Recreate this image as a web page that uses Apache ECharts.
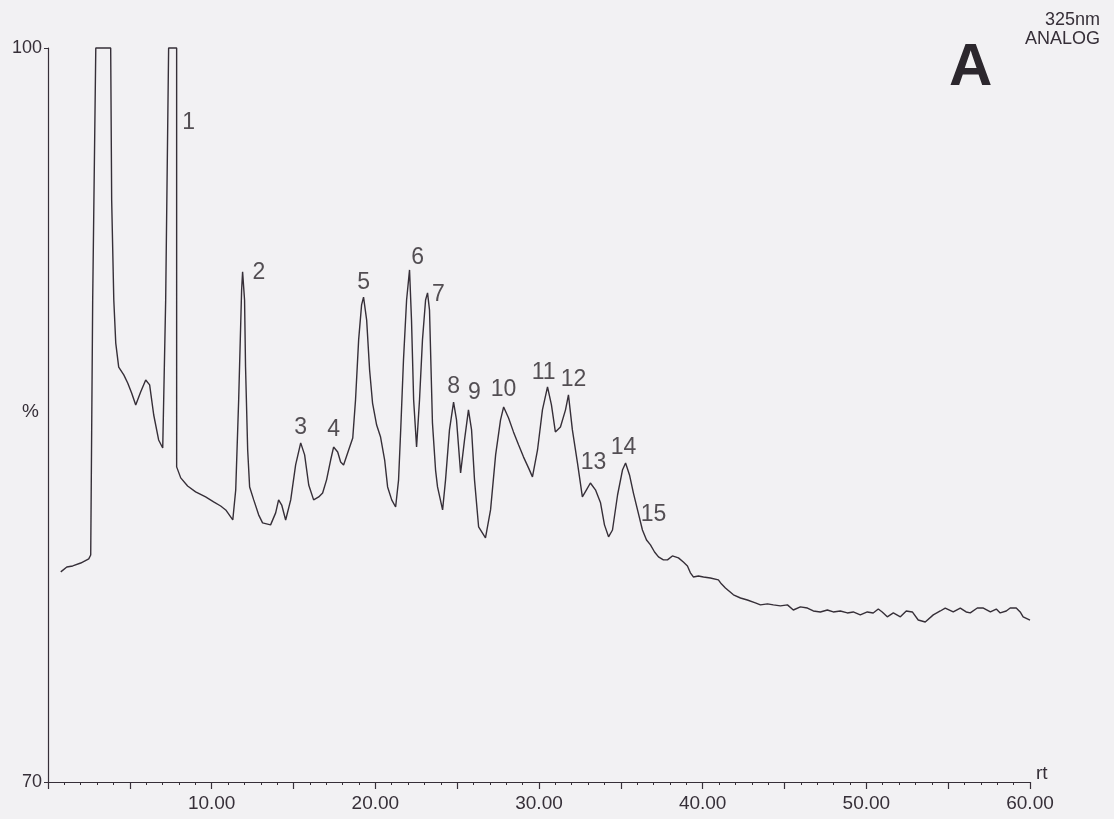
<!DOCTYPE html>
<html>
<head>
<meta charset="utf-8">
<script src="https://cdn.jsdelivr.net/npm/echarts@6/dist/echarts.min.js"></script>
<style>
html,body{margin:0;padding:0;background:#f2f1f3;}
#chart{width:1114px;height:819px;}
</style>
</head>
<body>
<div id="chart"></div>
<script>
// Retention time (min) and signal (%)
const rt = [0.78,1.15,1.51,2.00,2.49,2.61,2.73,2.92,3.83,3.89,4.02,4.14,4.32,4.63,4.87,5.11,5.36,5.66,5.97,6.21,6.46,6.76,7.01,7.19,7.37,7.86,7.86,7.86,
8.11,8.53,9.02,9.63,10.12,10.55,10.86,11.29,11.47,11.65,11.83,11.89,12.01,12.07,12.20,12.32,12.57,12.87,13.11,13.60,13.91,14.09,14.28,14.52,14.83,15.13,15.44,15.68,15.93,16.23,16.54,16.78,17.02,17.27,17.45,17.70,17.88,18.06,18.37,18.62,18.79,18.98,19.16,19.28,19.47,19.65,19.83,20.08,20.32,20.57,20.75,21.00,21.24,21.42,21.55,21.72,21.91,22.09,22.21,22.34,22.52,22.70,22.88,23.07,23.19,23.31,23.49,23.68,23.80,24.11,24.29,24.53,24.78,24.96,25.21,25.45,25.69,25.88,26.06,26.31,26.73,27.04,27.35,27.65,27.84,28.14,28.44,28.75,29.05,29.36,29.60,29.91,30.21,30.52,30.76,31.00,31.31,31.62,31.80,32.04,32.35,32.65,32.90,33.14,33.45,33.76,34.00,34.25,34.49,34.80,35.10,35.29,35.53,35.77,36.02,36.32,36.57,36.81,37.06,37.30,37.60,37.85,38.15,38.52,38.82,39.07,39.25,39.43,39.74,40.05,40.47,40.96,41.14,41.39,41.88,42.31,42.73,43.22,43.53,43.96,44.32,44.75,45.18,45.54,45.97,46.40,46.76,47.19,47.62,47.98,48.41,48.84,49.20,49.63,50.06,50.42,50.73,50.97,51.28,51.65,52.08,52.44,52.81,53.17,53.60,54.09,54.52,54.82,55.31,55.74,56.10,56.35,56.78,57.15,57.58,57.94,58.18,58.55,58.79,59.16,59.40,59.58,60.00];
const signal = [78.59,78.79,78.83,78.95,79.12,79.28,89.70,100,100,93.79,89.70,87.94,86.96,86.64,86.31,85.90,85.41,85.94,86.43,86.23,85.00,83.98,83.65,89.70,100,100,89.70,82.88,
82.43,82.10,81.86,81.65,81.45,81.28,81.12,80.71,81.94,85.62,90.11,90.85,89.70,86.96,83.57,82.06,81.53,80.92,80.59,80.51,81.00,81.53,81.32,80.71,81.53,82.96,83.86,83.37,82.14,81.53,81.65,81.81,82.35,83.16,83.69,83.49,83.08,82.96,83.57,84.06,85.62,88.07,89.50,89.82,88.88,86.84,85.49,84.59,84.10,83.16,82.06,81.53,81.24,82.35,84.39,87.25,89.70,90.93,88.88,85.62,83.69,85.62,88.07,89.70,89.99,89.29,84.68,82.75,82.06,81.12,82.35,84.39,85.53,84.80,82.63,83.98,85.21,84.39,82.35,80.43,79.98,81.12,83.37,84.80,85.33,84.88,84.31,83.78,83.29,82.84,82.47,83.57,85.21,86.15,85.41,84.31,84.51,85.21,85.82,84.39,83.04,81.65,81.94,82.22,81.94,81.41,80.51,80.02,80.30,81.73,82.75,83.04,82.55,81.81,81.12,80.30,79.89,79.69,79.40,79.20,79.08,79.08,79.24,79.16,78.99,78.83,78.55,78.38,78.42,78.38,78.34,78.26,78.10,77.93,77.65,77.52,77.44,77.32,77.24,77.28,77.24,77.20,77.24,77.03,77.16,77.11,76.99,76.95,77.03,76.95,76.99,76.91,76.95,76.83,76.95,76.91,77.07,76.95,76.75,76.91,76.75,76.99,76.95,76.62,76.54,76.83,76.99,77.11,76.95,77.11,76.95,76.91,77.11,77.11,76.95,77.07,76.91,76.99,77.11,77.11,76.95,76.75,76.62];

// Peak annotations: number, retention time of label, label height (%)
const peakNames = ['1','2','3','4','5','6','7','8','9','10','11','12','13','14','15'];
const peakLabelRt = [8.60,12.88,15.44,17.45,19.28,22.58,23.86,24.78,26.06,27.83,30.28,32.11,33.33,35.16,37.00];
const peakLabelY = [96.94,90.81,84.47,84.39,90.40,91.42,89.91,86.15,85.90,86.02,86.72,86.43,83.04,83.65,80.92];

const xTickValues = [10,20,30,40,50,60];
const yTickValues = [70,100];

const traceData = rt.map((t,i)=>[t, signal[i]]);
const labelData = peakNames.map((n,i)=>({value:[peakLabelRt[i], peakLabelY[i]], name:n}));

const ink = '#362f38';
const font = 'Liberation Sans, Arial, sans-serif';
const chart = echarts.init(document.getElementById('chart'), null, {renderer:'canvas'});
chart.setOption({
  backgroundColor:'#f2f1f3',
  animation:false,
  grid:{left:48, right:84, top:48, bottom:37, containLabel:false, outerBoundsMode:'none'},
  xAxis:{
    type:'value', min:0, max:60, interval:5,
    name:'rt', nameLocation:'end', nameGap:6,
    nameTextStyle:{fontSize:19, color:ink, fontFamily:font, verticalAlign:'bottom', lineHeight:19, padding:[0,0,-1,0]},
    axisLine:{show:true, lineStyle:{color:ink, width:1.2}},
    axisTick:{show:true, length:7, inside:false, lineStyle:{color:ink, width:1.2}},
    minorTick:{show:true, splitNumber:5, length:3, lineStyle:{color:ink, width:1}},
    splitLine:{show:false}, minorSplitLine:{show:false},
    axisLabel:{margin:12, fontSize:19, color:ink, fontFamily:font,
      formatter:v=> xTickValues.indexOf(v)>=0 ? v.toFixed(2) : ''}
  },
  yAxis:{
    type:'value', min:70, max:100, interval:30,
    axisLine:{show:true, lineStyle:{color:ink, width:1.2}},
    axisTick:{show:true, length:4, lineStyle:{color:ink, width:1}},
    splitLine:{show:false},
    axisLabel:{margin:6, fontSize:18, color:ink, fontFamily:font,
      formatter:v=> yTickValues.indexOf(v)>=0 ? String(v) : ''}
  },
  series:[
    {type:'line', data:traceData, showSymbol:false, symbol:'none', clip:false,
      lineStyle:{color:ink, width:1.4}, silent:true},
    {type:'scatter', data:labelData, symbolSize:0, silent:true,
      label:{show:true, position:'inside', formatter:p=>p.name, fontSize:23,
        color:'#2a252b', fontFamily:font}}
  ],
  graphic:[
    {type:'text', left:22, top:402, style:{text:'%', fontSize:19, fill:ink, fontFamily:font}},
    {type:'text', right:14, top:11, style:{text:'325nm', fontSize:18, fill:ink, fontFamily:font, textAlign:'right'}},
    {type:'text', right:14, top:30, style:{text:'ANALOG', fontSize:18, fill:ink, fontFamily:font, textAlign:'right'}},
    {type:'text', left:949, top:38, style:{text:'A', fontSize:60, fontWeight:'bold', fill:'#2c272d', fontFamily:font}}
  ]
});
</script>
</body>
</html>
